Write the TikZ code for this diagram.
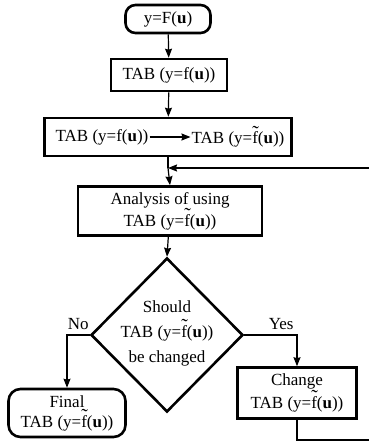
\documentclass[tikz,border=0pt]{standalone}
\usepackage{fontspec}
\setmainfont{Liberation Serif}
\usetikzlibrary{shapes.geometric, arrows.meta, positioning}
\newcommand{\ftil}{\rlap{\raisebox{0.26em}{\scalebox{1.15}{\symbol{"02DC}}}}f}
\newcommand{\tabf}{TAB (y=f(\textbf{u}))}
\newcommand{\tabft}{TAB (y=\ftil(\textbf{u}))}
\tikzset{
    box/.style={rectangle, draw=black, line width=2.6pt, align=center, inner sep=2pt},
    term/.style={box, rounded corners=10pt},
    decision/.style={diamond, draw=black, line width=2.6pt, inner sep=0pt},
    plain/.style={align=center, inner sep=1pt},
    arr/.style={-{Stealth[length=9pt, width=7pt, inset=1pt]}, line width=1.2pt, black},
    line/.style={line width=1.2pt, black}
}
\begin{document}
\begin{tikzpicture}[x=1pt, y=-1pt, font=\fontsize{17}{20}\selectfont]
    \useasboundingbox (0,0) rectangle (368,443);
    \node[term, minimum width=85pt, minimum height=28pt] (start) at (168,19) {y=F(\textbf{u})};
    \node[box, minimum width=116pt, minimum height=32pt] (tab) at (169,75) {\tabf};
    \node[box, minimum width=247pt, minimum height=38pt] (conv) at (168,137) {};
    \node[plain] (tabold) at (102,137) {\tabf};
    \node[plain] (tabnew) at (238,137) {\tabft};
    \coordinate (join) at (168,168);
    \node[box, minimum width=184pt, minimum height=49pt] (anal) at (170,211) {Analysis of using\\\tabft};
    \node[decision, minimum width=152pt, minimum height=154pt] (dec) at (167,335) {};
    \node[plain, font=\fontsize{17}{25}\selectfont] (dectext) at (167,333) {Should\\\tabft\\be changed};
    \node[term, rounded corners=12pt, minimum width=117pt, minimum height=48pt] (final) at (67,413) {Final\\\tabft};
    \node[box, minimum width=119pt, minimum height=51pt] (change) at (297,393) {Change\\\tabft};
    \coordinate (lb) at (374,440);
    \coordinate (lt) at (374,168);
    % main flow
    \draw[arr] (start) -- (tab);
    \draw[arr] (tab) -- (conv);
    \draw[arr] (tabold) -- (tabnew);
    \draw[line] (conv.south) -- (join);
    \draw[arr] (join) -- (anal.north);
    \draw[arr] (anal) -- (dec.north);
    % branches
    \draw[arr] (dec.west) -| node[pos=0.25, above=1pt] (no) {No} (final.north);
    \draw[arr] (dec.east) -| node[pos=0.35, above=1pt] (yes) {Yes} (change.north);
    % loop back
    \draw[arr] (change.south) |- (lb) -- (lt) -- (join);
\end{tikzpicture}
\end{document}
